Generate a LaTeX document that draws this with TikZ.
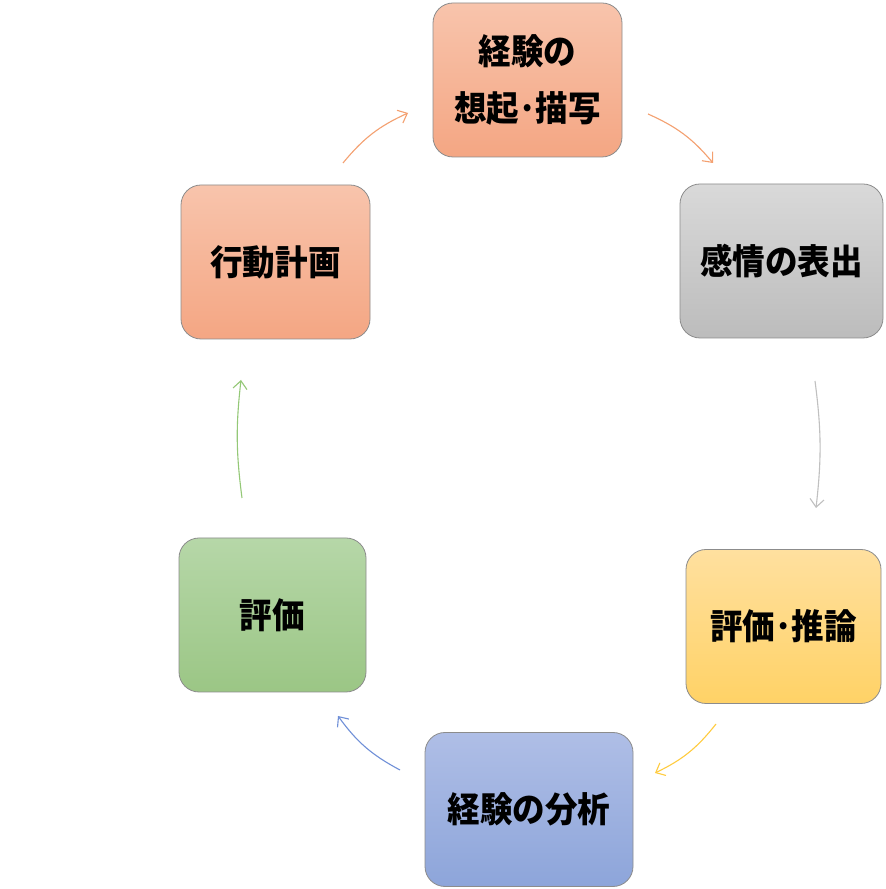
\documentclass[tikz,border=0pt]{standalone}
\usepackage{fontspec}
\newfontfamily\jp{Noto Sans CJK JP}[FakeStretch=0.93]
\usetikzlibrary{arrows.meta}
\definecolor{orT}{HTML}{F8C4AC}
\definecolor{orB}{HTML}{F4A683}
\definecolor{grT}{HTML}{D9D9D9}
\definecolor{grB}{HTML}{BCBCBC}
\definecolor{yeT}{HTML}{FFE09F}
\definecolor{yeB}{HTML}{FFD266}
\definecolor{blT}{HTML}{AFBEE6}
\definecolor{blB}{HTML}{8DA5DA}
\definecolor{gnT}{HTML}{B6D7A8}
\definecolor{gnB}{HTML}{9BC685}
\definecolor{arOr}{HTML}{F4A070}
\definecolor{arGr}{HTML}{C0C0C0}
\definecolor{arYe}{HTML}{FFCC40}
\definecolor{arBl}{HTML}{7090D8}
\definecolor{arGn}{HTML}{94C877}
\tikzset{
  stagebox/.style={rectangle, rounded corners=20pt, draw=black!45, line width=0.8pt,
    minimum height=154pt, align=center, inner sep=0pt,
    font=\jp\bfseries\fontsize{35}{57}\selectfont, text=black},
  cyc/.style={line width=1.1pt, -{Straight Barb[length=8pt,width=14pt,line width=1.1pt]}, bend left=13},
  cycv/.style={cyc, bend left=7}
}
\begin{document}
\begin{tikzpicture}[x=1pt,y=1pt]
\useasboundingbox (0,0) rectangle (886,889);
\fill[white] (0,0) rectangle (886,889);
\node[stagebox, minimum width=189pt, top color=orT, bottom color=orB] (s1) at (527.5,809) {経験の\\想起･描写};
\node[stagebox, minimum width=203pt, top color=grT, bottom color=grB] (s2) at (781.5,628) {感情の表出};
\node[stagebox, minimum width=195pt, top color=yeT, bottom color=yeB] (s3) at (783.5,262.5) {評価･推論};
\node[stagebox, minimum width=208pt, top color=blT, bottom color=blB] (s4) at (529,79.5) {経験の分析};
\node[stagebox, minimum width=187pt, top color=gnT, bottom color=gnB] (s5) at (272.5,274) {評価};
\node[stagebox, minimum width=189pt, top color=orT, bottom color=orB] (s6) at (275.5,627) {行動計画};
\coordinate (a1s) at (343,726); \coordinate (a1e) at (408,776);
\coordinate (a2s) at (648,775); \coordinate (a2e) at (713,726);
\coordinate (a3s) at (815,508); \coordinate (a3e) at (816,381);
\coordinate (a4s) at (716,165); \coordinate (a4e) at (655,116);
\coordinate (a5s) at (400,119); \coordinate (a5e) at (338,173);
\coordinate (a6s) at (242,391); \coordinate (a6e) at (241,509);
\draw[cyc, draw=arOr] (a1s) to (a1e);
\draw[cyc, draw=arOr] (a2s) to (a2e);
\draw[cycv, draw=arGr] (a3s) to (a3e);
\draw[cyc, draw=arYe] (a4s) to (a4e);
\draw[cyc, draw=arBl] (a5s) to (a5e);
\draw[cycv, draw=arGn] (a6s) to (a6e);
\end{tikzpicture}
\end{document}
